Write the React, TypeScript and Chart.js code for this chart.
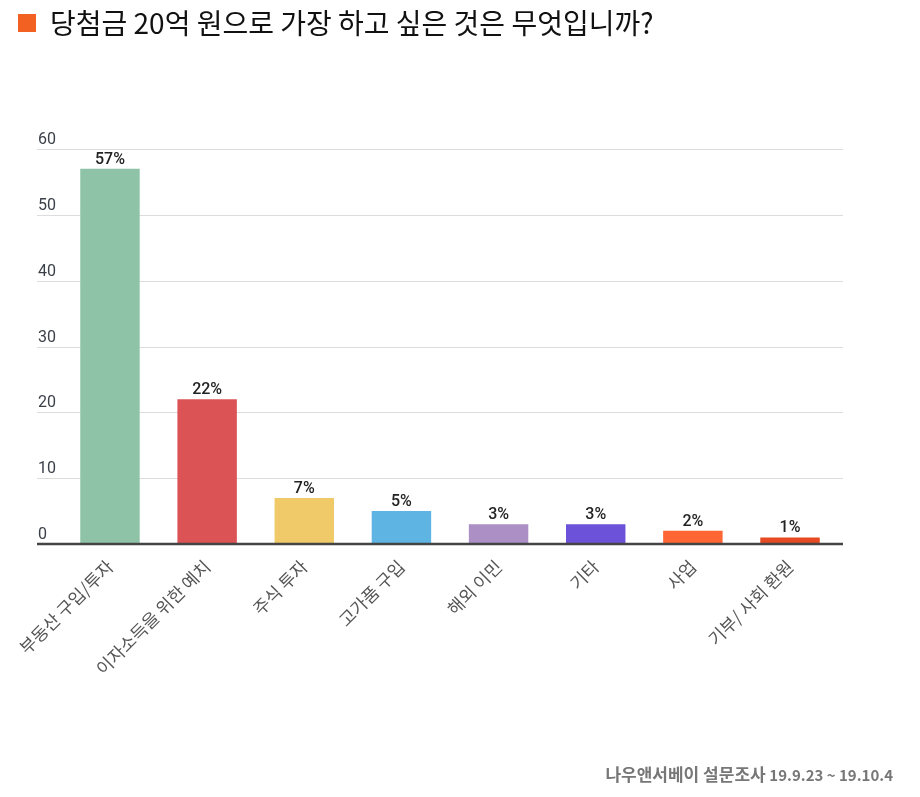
import React, { useEffect, useRef } from "react";
import { Chart, registerables } from "chart.js";

Chart.register(...registerables);

const TITLE = "당첨금 20억 원으로 가장 하고 싶은 것은 무엇입니까?";
const CATEGORIES = [
  "부동산 구입/투자",
  "이자소득을 위한 예치",
  "주식 투자",
  "고가품 구입",
  "해외 이민",
  "기타",
  "사업",
  "기부/ 사회 환원",
];
const VALUES = [57, 22, 7, 5, 3, 3, 2, 1];
const COLORS = ["#8EC3A7", "#DC5356", "#F0CA68", "#5EB5E4", "#AB8FC5", "#6C52D9", "#FF6633", "#E64A23"];
const Y_MIN = 0;
const Y_MAX = 60;
const Y_STEP = 10;
const SOURCE_KO = "나우앤서베이 설문조사";
const SOURCE_DATE = "19.9.23 ~ 19.10.4";

const GRID_LEFT = 37;
const GRID_RIGHT = 843;

const decorPlugin = {
  id: "decor",
  beforeDatasetsDraw(chart: any) {
    const ctx = chart.ctx;
    const y = chart.scales.y;
    ctx.save();
    ctx.strokeStyle = "#dcdcdc";
    ctx.lineWidth = 1;
    y.ticks.forEach((t: any) => {
      if (t.value === 0) return;
      const py = Math.round(y.getPixelForValue(t.value)) + 0.5;
      ctx.beginPath();
      ctx.moveTo(GRID_LEFT, py);
      ctx.lineTo(GRID_RIGHT, py);
      ctx.stroke();
    });
    ctx.fillStyle = "#3a3f48";
    ctx.font = "16px Roboto, 'Liberation Sans', sans-serif";
    ctx.textAlign = "left";
    ctx.textBaseline = "alphabetic";
    y.ticks.forEach((t: any) => {
      const py = y.getPixelForValue(t.value);
      ctx.fillText(String(t.value), GRID_LEFT + 1, py - 5);
    });
    ctx.restore();
  },
  afterDatasetsDraw(chart: any) {
    const ctx = chart.ctx;
    const y = chart.scales.y;
    ctx.save();
    const py0 = y.getPixelForValue(0);
    ctx.strokeStyle = "#444";
    ctx.lineWidth = 2.5;
    ctx.beginPath();
    ctx.moveTo(GRID_LEFT, py0);
    ctx.lineTo(GRID_RIGHT, py0);
    ctx.stroke();

    const meta = chart.getDatasetMeta(0);
    ctx.fillStyle = "#222";
    ctx.font = "500 16px Roboto, 'Liberation Sans', sans-serif";
    ctx.textAlign = "center";
    ctx.textBaseline = "alphabetic";
    meta.data.forEach((bar: any, i: number) => {
      ctx.fillText(VALUES[i] + "%", bar.x, bar.y - 5);
    });
    ctx.restore();
  },
};

export default function App() {
  const ref = useRef<HTMLCanvasElement | null>(null);

  useEffect(() => {
    if (!ref.current) return;
    const chart = new Chart(ref.current, {
      type: "bar",
      data: {
        labels: CATEGORIES,
        datasets: [
          {
            data: VALUES,
            backgroundColor: COLORS,
            borderWidth: 0,
            barPercentage: 0.612,
            categoryPercentage: 1,
          },
        ],
      },
      options: {
        animation: false,
        responsive: true,
        maintainAspectRatio: false,
        layout: { padding: { left: 61.4, right: 81.4, top: 149, bottom: 0 } },
        plugins: {
          legend: { display: false },
          tooltip: { enabled: false },
          title: { display: false },
        },
        scales: {
          x: {
            offset: true,
            grid: { display: false, drawTicks: false },
            border: { display: false },
            ticks: {
              autoSkip: false,
              minRotation: 45,
              maxRotation: 45,
              padding: 12,
              color: "#555",
              font: { family: "'Noto Sans CJK KR', sans-serif", size: 17.5 },
            },
            afterFit: (scale: any) => {
              scale.height = 253;
            },
          },
          y: {
            min: Y_MIN,
            max: Y_MAX,
            grid: { display: false, drawTicks: false },
            border: { display: false },
            ticks: { stepSize: Y_STEP, display: false },
          },
        },
      },
      plugins: [decorPlugin],
    });
    return () => chart.destroy();
  }, []);

  return (
    <div
      style={{
        position: "absolute",
        left: 0,
        top: 0,
        width: 920,
        height: 797,
        background: "#fff",
        overflow: "hidden",
      }}
    >
      <canvas ref={ref} style={{ position: "absolute", left: 0, top: 0, width: 920, height: 797 }} />
      <div
        style={{
          position: "absolute",
          left: 18,
          top: 14,
          width: 18,
          height: 18,
          background: "#F26122",
        }}
      />
      <div
        style={{
          position: "absolute",
          left: 50,
          top: 2,
          fontFamily: "'Noto Sans CJK KR', sans-serif",
          fontSize: 28,
          lineHeight: "40px",
          color: "#111",
          whiteSpace: "nowrap",
        }}
      >
        {TITLE}
      </div>
      <div
        style={{
          position: "absolute",
          right: 27,
          top: 762,
          fontFamily: "'Noto Sans CJK KR', sans-serif",
          fontWeight: 700,
          color: "#777",
          whiteSpace: "nowrap",
          lineHeight: "24px",
        }}
      >
        <span style={{ fontSize: 17 }}>{SOURCE_KO}</span>{" "}
        <span style={{ fontSize: 15 }}>{SOURCE_DATE}</span>
      </div>
    </div>
  );
}
